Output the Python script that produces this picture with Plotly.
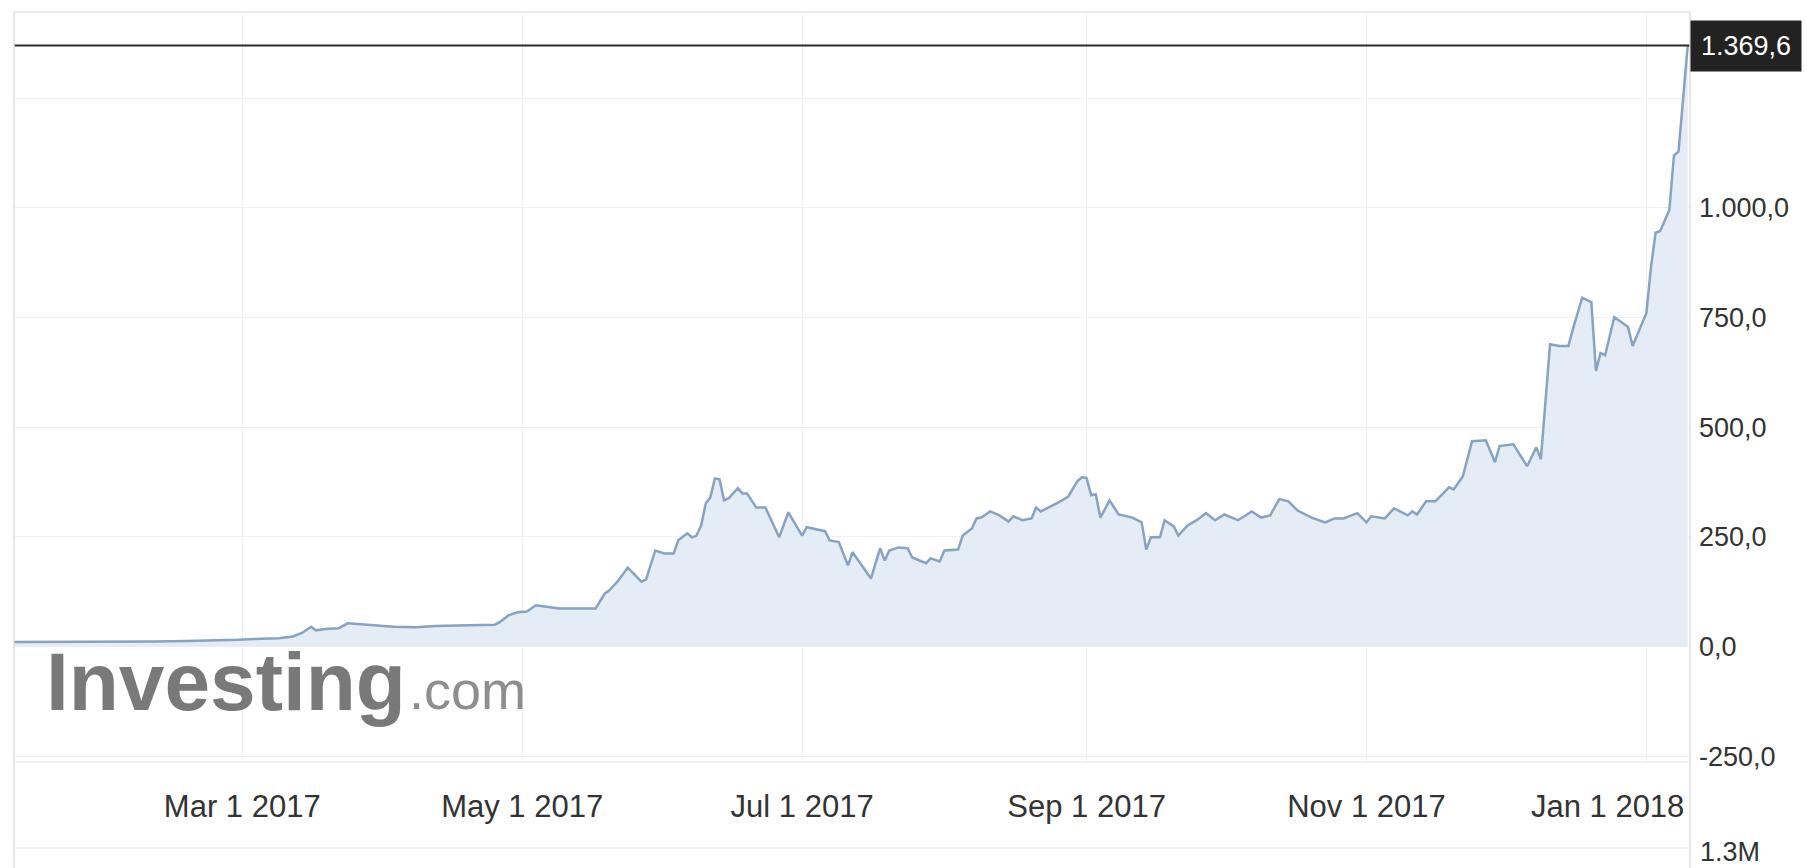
import plotly.graph_objects as go

# ---- data ----
dates = [
    "2017-01-10", "2017-01-18", "2017-01-26", "2017-02-03", "2017-02-10", "2017-02-17",
    "2017-02-24", "2017-02-28", "2017-03-05", "2017-03-09", "2017-03-12", "2017-03-14",
    "2017-03-16", "2017-03-17", "2017-03-19", "2017-03-22", "2017-03-24", "2017-03-28",
    "2017-04-03", "2017-04-08", "2017-04-12", "2017-04-17", "2017-04-22", "2017-04-25",
    "2017-04-26", "2017-04-28", "2017-04-30", "2017-05-02", "2017-05-04", "2017-05-06",
    "2017-05-09", "2017-05-13", "2017-05-17", "2017-05-19", "2017-05-20", "2017-05-22",
    "2017-05-24", "2017-05-27", "2017-05-28", "2017-05-30", "2017-06-01", "2017-06-03",
    "2017-06-04", "2017-06-06", "2017-06-07", "2017-06-08", "2017-06-09", "2017-06-10",
    "2017-06-11", "2017-06-12", "2017-06-13", "2017-06-14", "2017-06-15", "2017-06-17",
    "2017-06-18", "2017-06-19", "2017-06-21", "2017-06-23", "2017-06-26", "2017-06-28",
    "2017-07-01", "2017-07-02", "2017-07-06", "2017-07-07", "2017-07-09", "2017-07-11",
    "2017-07-12", "2017-07-16", "2017-07-18", "2017-07-19", "2017-07-20", "2017-07-22",
    "2017-07-24", "2017-07-25", "2017-07-28", "2017-07-29", "2017-07-31", "2017-08-01",
    "2017-08-04", "2017-08-05", "2017-08-07", "2017-08-08", "2017-08-09", "2017-08-11",
    "2017-08-13", "2017-08-15", "2017-08-16", "2017-08-18", "2017-08-20", "2017-08-21",
    "2017-08-22", "2017-08-26", "2017-08-28", "2017-08-30", "2017-08-31", "2017-09-01",
    "2017-09-02", "2017-09-03", "2017-09-04", "2017-09-06", "2017-09-08", "2017-09-11",
    "2017-09-13", "2017-09-14", "2017-09-15", "2017-09-17", "2017-09-18", "2017-09-20",
    "2017-09-21", "2017-09-23", "2017-09-25", "2017-09-27", "2017-09-29", "2017-10-01",
    "2017-10-04", "2017-10-07", "2017-10-09", "2017-10-11", "2017-10-13", "2017-10-15",
    "2017-10-17", "2017-10-20", "2017-10-23", "2017-10-25", "2017-10-27", "2017-10-30",
    "2017-11-01", "2017-11-02", "2017-11-05", "2017-11-07", "2017-11-10", "2017-11-11",
    "2017-11-12", "2017-11-14", "2017-11-16", "2017-11-19", "2017-11-20", "2017-11-22",
    "2017-11-24", "2017-11-27", "2017-11-29", "2017-11-30", "2017-12-03", "2017-12-06",
    "2017-12-08", "2017-12-09", "2017-12-11", "2017-12-13", "2017-12-15", "2017-12-16",
    "2017-12-18", "2017-12-20", "2017-12-21", "2017-12-22", "2017-12-23", "2017-12-25",
    "2017-12-27", "2017-12-28", "2017-12-29", "2018-01-01", "2018-01-02", "2018-01-03",
    "2018-01-04", "2018-01-06", "2018-01-07", "2018-01-08", "2018-01-10",
]
prices = [
    10.5, 10.4, 10.6, 11.0, 11.5, 12.8,
    13.5, 15.5, 18, 19, 23, 31,
    45, 37, 40, 42, 53, 50,
    45, 44, 47, 48, 49, 50,
    55, 71, 78, 80, 94, 91,
    87, 87, 87, 121, 128, 151,
    180, 148, 153, 219, 212, 212,
    242, 258, 249, 253, 276, 326,
    340, 383, 381, 333, 338, 361,
    349, 349, 317, 317, 249, 306,
    253, 272, 263, 242, 238, 185,
    215, 155, 224, 196, 219, 226,
    224, 203, 190, 201, 194, 219,
    221, 253, 269, 292, 294, 308,
    299, 285, 297, 288, 292, 317,
    308, 329, 342, 377, 386, 384,
    345, 347, 294, 333, 301, 294,
    283, 221, 249, 249, 288, 274,
    253, 276, 288, 304, 288, 301,
    288, 308, 294, 299, 336, 331,
    310, 294, 283, 292, 292, 304,
    283, 297, 292, 315, 299, 308,
    301, 331, 331, 363, 358, 388,
    468, 470, 420, 457, 461, 411,
    454, 427, 689, 685, 685, 724,
    795, 785, 628, 669, 664, 751,
    735, 728, 685, 760, 865, 943,
    947, 995, 1119, 1128, 1369.6,
]
last_price = 1369.6
last_price_label = "1.369,6"

x_tick_vals = ["2017-03-01", "2017-05-01", "2017-07-01", "2017-09-01", "2017-11-01", "2018-01-01"]
x_tick_text = ["Mar 1 2017", "May 1 2017", "Jul 1 2017", "Sep 1 2017", "Nov 1 2017",
               "Jan 1 2018" + "\u00a0" * 9]
y_tick_vals = [-250, 0, 250, 500, 750, 1000, 1250]
y_tick_text = ["-250,0", "0,0", "250,0", "500,0", "750,0", "1.000,0", ""]
volume_label = "1.3M"

FONT = "Liberation Sans, Arial, Helvetica, sans-serif"

fig = go.Figure()
fig.add_trace(go.Scatter(
    x=dates, y=prices, mode="lines",
    line=dict(color="#87a3c1", width=2.5),
    fill="tozeroy", fillcolor="#e4ecf5",
    hoverinfo="skip", showlegend=False,
))

W, H = 1807, 868
ml, mr, mt, mb = 14, 117, 12, 106
plot_h = H - mt - mb
plot_w = W - ml - mr
bottom_paper = -mb / plot_h

fig.update_layout(
    width=W, height=H,
    margin=dict(l=ml, r=mr, t=mt, b=mb, pad=0),
    paper_bgcolor="white", plot_bgcolor="white",
    font=dict(family=FONT, color="#333333"),
    showlegend=False,
    xaxis=dict(
        type="date",
        range=["2017-01-10 06:00", "2018-01-10 12:00"],
        tickmode="array", tickvals=x_tick_vals, ticktext=x_tick_text,
        showgrid=True, gridcolor="#f1f1f1", gridwidth=1,
        zeroline=False, showline=False, ticks="",
        tickfont=dict(size=31, color="#333333", family=FONT),
        ticklabelstandoff=23,
        fixedrange=True,
    ),
    yaxis=dict(
        side="right",
        range=[-263, 1446],
        tickmode="array", tickvals=y_tick_vals, ticktext=y_tick_text,
        showgrid=True, gridcolor="#f0f0f0", gridwidth=1,
        zeroline=False, showline=False, ticks="",
        tickfont=dict(size=27, color="#333333", family=FONT),
        ticklabelstandoff=8,
        fixedrange=True,
    ),
)

shapes = [
    # last price line
    dict(type="line", xref="paper", yref="y", x0=0, x1=1, y0=last_price, y1=last_price,
         line=dict(color="#2a2a2a", width=2), layer="above"),
    # frame lines
    dict(type="line", xref="paper", yref="paper", x0=0, x1=0, y0=bottom_paper, y1=1,
         line=dict(color="#dcdcdc", width=1.5)),
    dict(type="line", xref="paper", yref="paper", x0=1, x1=1, y0=bottom_paper, y1=1,
         line=dict(color="#dcdcdc", width=1.5)),
    dict(type="line", xref="paper", yref="paper", x0=0, x1=1, y0=1, y1=1,
         line=dict(color="#e6e6e6", width=1.5)),
    dict(type="line", xref="paper", yref="paper", x0=0, x1=1, y0=0, y1=0,
         line=dict(color="#ececec", width=1.5)),
    dict(type="line", xref="paper", yref="paper", x0=0, x1=1,
         y0=-86 / plot_h, y1=-86 / plot_h,
         line=dict(color="#ececec", width=1.5)),
]
fig.update_layout(shapes=shapes)

annotations = [
    dict(xref="paper", yref="y", x=1, y=last_price, xanchor="left", yanchor="middle",
         text=last_price_label, showarrow=False, bgcolor="#222222", borderpad=10,
         font=dict(size=27, color="white", family=FONT)),
    dict(xref="paper", yref="paper", x=1, y=-90 / plot_h, xanchor="left", yanchor="middle",
         xshift=8, text=volume_label, showarrow=False,
         font=dict(size=27, color="#333333", family=FONT)),
    # watermark
    dict(xref="paper", yref="paper", x=30 / plot_w, y=(762 - 681) / plot_h,
         xanchor="left", yanchor="middle", text="<b>Investing</b>", showarrow=False,
         font=dict(size=82, color="rgba(110,110,110,0.92)", family=FONT)),
    dict(xref="paper", yref="paper", x=393 / plot_w, y=(762 - 690) / plot_h,
         xanchor="left", yanchor="middle", text=".com", showarrow=False,
         font=dict(size=54, color="rgba(130,130,130,0.9)", family=FONT)),
]
fig.update_layout(annotations=annotations)

fig.write_html("out.html", config={"displayModeBar": False, "staticPlot": True},
               post_script="document.body.style.margin='0';document.body.style.overflow='hidden';")
